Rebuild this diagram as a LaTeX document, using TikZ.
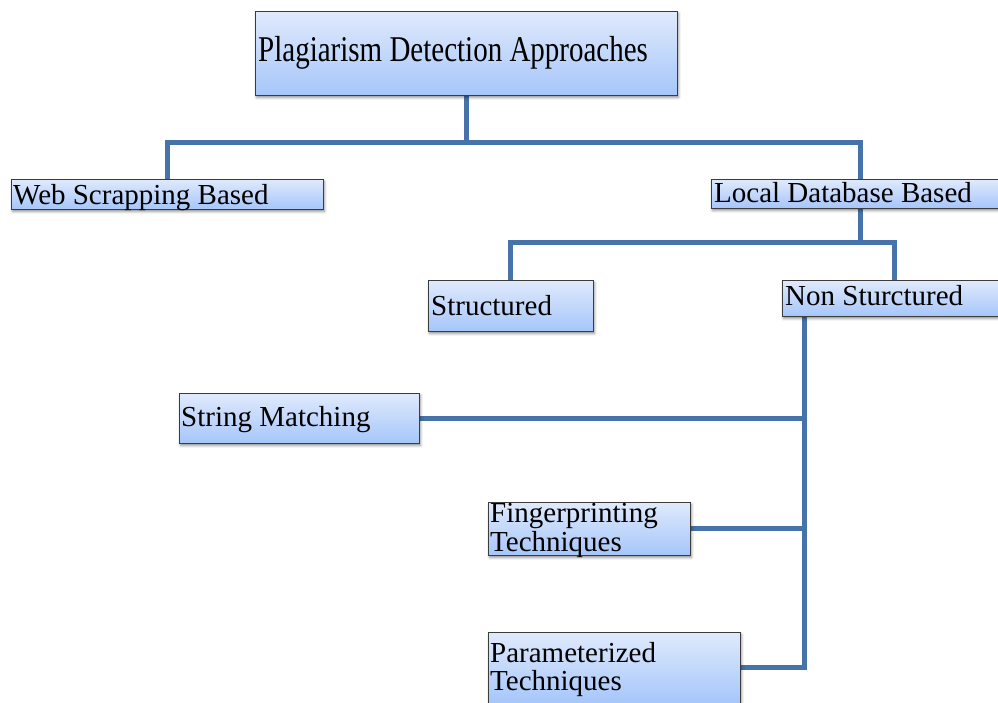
\documentclass[tikz,border=0pt]{standalone}
\usepackage{fontspec}
\usepackage{graphicx}
\setmainfont{Liberation Serif}
\usetikzlibrary{shadows.blur,backgrounds}
\definecolor{linecol}{RGB}{70,115,170}
\definecolor{boxtop}{RGB}{224,234,252}
\definecolor{boxbot}{RGB}{166,198,250}
\definecolor{boxline}{RGB}{60,60,60}
\begin{document}
\begin{tikzpicture}[x=1pt,y=-1pt,
  box/.style={draw=boxline, line width=0.8pt, top color=boxtop, bottom color=boxbot,
    inner sep=0pt, blur shadow={shadow xshift=1.5pt, shadow yshift=-2.5pt,
    shadow blur radius=2.5pt, shadow opacity=45}},
  lbl/.style={anchor=base west, inner sep=0pt, font=\fontsize{29}{29}\selectfont},
  connector/.style={draw=linecol, line width=5pt, line join=miter}]
\useasboundingbox (0,0) rectangle (998,702);
\clip (0,0) rectangle (998,702);
% boxes
\node[box, minimum width=422pt, minimum height=84pt] (top) at (466,53) {};
\node[box, minimum width=312pt, minimum height=30pt] (web) at (167,194) {};
\node[box, minimum width=298pt, minimum height=29pt] (local) at (860,193.5) {};
\node[box, minimum width=165pt, minimum height=51pt] (struct) at (510.5,305.5) {};
\node[box, minimum width=224pt, minimum height=36pt] (nonstr) at (894,298) {};
\node[box, minimum width=240pt, minimum height=50pt] (string) at (299,418) {};
\node[box, minimum width=202pt, minimum height=53pt] (finger) at (589,528.5) {};
\node[box, minimum width=252pt, minimum height=71pt] (param) at (614,667.5) {};
% texts
\node[lbl] (t0) at (258,61) {\scalebox{1}[1.25]{Plagiarism Detection Approaches}};
\node[lbl] (t1) at (13,204) {Web Scrapping Based};
\node[lbl] (t2) at (714,202) {Local Database Based};
\node[lbl] (t3) at (431,315) {Structured};
\node[lbl] (t4) at (785,305) {Non Sturctured};
\node[lbl] (t5) at (181,426) {String Matching};
\node[lbl] (t6) at (490,522) {Fingerprinting};
\node[lbl] (t7) at (490,551) {Techniques};
\node[lbl] (t8) at (490,662) {Parameterized};
\node[lbl] (t9) at (490,690) {Techniques};
% connectors
\coordinate (j1) at (466,142);
\coordinate (j2) at (860,242);
\coordinate (ns) at ([xshift=23pt]nonstr.south west);
\begin{pgfonlayer}{background}
\draw[connector] (top.south) -- (j1);
\draw[connector] (web.north) |- (j1) -| (local.north);
\draw[connector] (local.south) -- (j2);
\draw[connector] (struct.north) |- (j2) -| (nonstr.north);
\draw[connector] (ns) |- (param.east);
\draw[connector] (string.east) -- (string.east -| ns);
\draw[connector] (finger.east) -- (finger.east -| ns);
\end{pgfonlayer}
\end{tikzpicture}
\end{document}
